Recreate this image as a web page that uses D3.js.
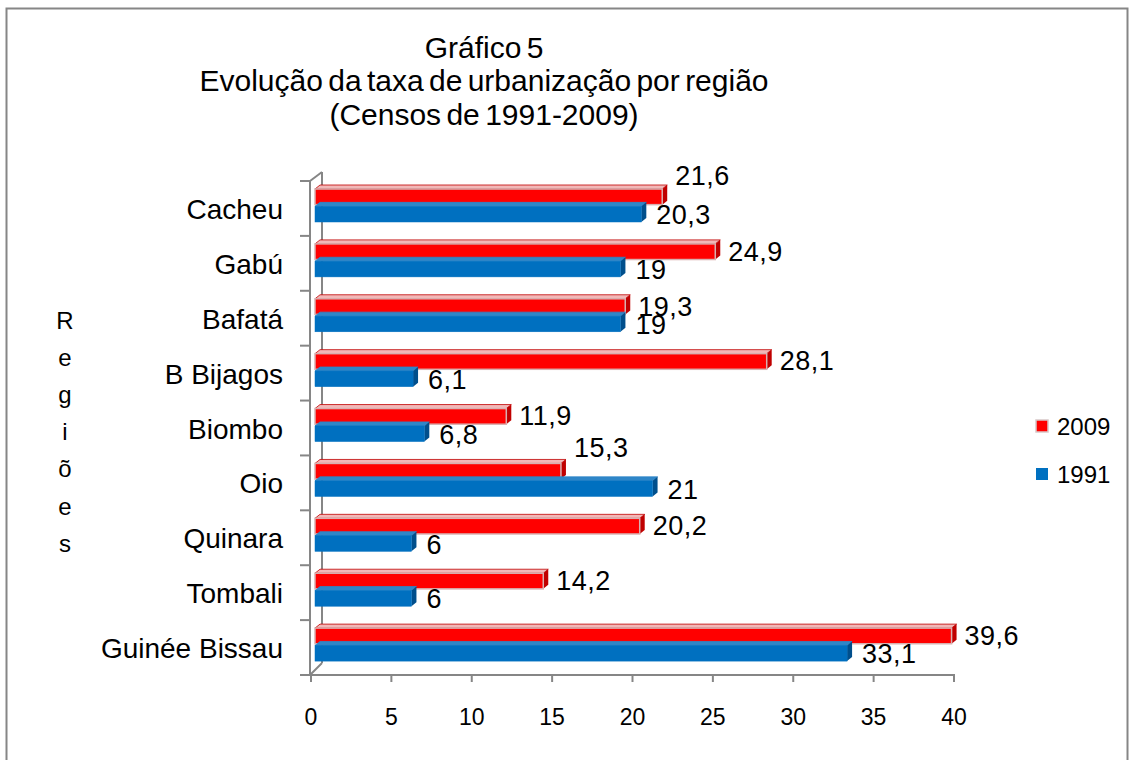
<!DOCTYPE html>
<html><head><meta charset="utf-8">
<script src="https://cdn.jsdelivr.net/npm/d3@7"></script>
<style>
html,body{margin:0;padding:0;background:#fff;}
svg{display:block;font-family:"Liberation Sans",Arial,sans-serif;}
</style></head>
<body>
<svg id="chart" width="1130" height="760"></svg>
<script>
const categories = ["Cacheu","Gabú","Bafatá","B Bijagos","Biombo","Oio","Quinara","Tombali","Guinée Bissau"];
const values2009 = [21.6,24.9,19.3,28.1,11.9,15.3,20.2,14.2,39.6];
const values1991 = [20.3,19,19,6.1,6.8,21,6,6,33.1];
const labels2009 = ["21,6","24,9","19,3","28,1","11,9","15,3","20,2","14,2","39,6"];
const labels1991 = ["20,3","19","19","6,1","6,8","21","6","6","33,1"];
const labelShift2009 = [-21,0,0,0,0,-23,0,0,0];
const seriesNames = ["2009","1991"];
const xTicks = [0,5,10,15,20,25,30,35,40];
const titleLines = ["Gráfico 5","Evolução da taxa de urbanização por região","(Censos de 1991-2009)"];
const axisTitle = "Regiões";

const svg = d3.select("#chart");
// frame
svg.append("rect").attr("x",6.5).attr("y",8.5).attr("width",1121).attr("height",760)
  .attr("fill","none").attr("stroke","#868686").attr("stroke-width",2);

const x = d3.scaleLinear().domain([0,40]).range([311,954]);
const y = d3.scaleBand().domain(categories).range([181,675]);
const ys = d3.scaleBand().domain(seriesNames).range([8,41]).paddingInner(0.1);
const dx = 5, dz = 4, off = 4;
const colors = {"2009":{front:"#ff0000",side:"#c00000",top:"#f2b8b8",edge:"#d8b0b0"},
                "1991":{front:"#0070c0",side:"#004f8c",top:"#2f86c8",edge:"#0070c0"}};

// axes lines (3D walls)
const g = svg.append("g");
const axisColor = "#868686";
g.append("line").attr("x1",310).attr("x2",310).attr("y1",181).attr("y2",675).attr("stroke",axisColor).attr("stroke-width",2);
g.append("line").attr("x1",322).attr("x2",322).attr("y1",172).attr("y2",663).attr("stroke",axisColor).attr("stroke-width",2);
g.append("line").attr("x1",310).attr("x2",322).attr("y1",181).attr("y2",172).attr("stroke",axisColor).attr("stroke-width",2);
g.append("line").attr("x1",310).attr("x2",322).attr("y1",675).attr("y2",663).attr("stroke",axisColor).attr("stroke-width",2);
// category ticks
const catEdges = categories.map(c=>y(c)).concat([y.range()[1]]);
g.selectAll(".ct").data(catEdges).join("line")
  .attr("x1",300).attr("x2",310).attr("y1",d=>d).attr("y2",d=>d)
  .attr("stroke",axisColor).attr("stroke-width",2);
// x axis
g.append("line").attr("x1",310).attr("x2",x(40)+1).attr("y1",675).attr("y2",675).attr("stroke",axisColor).attr("stroke-width",2);
g.selectAll(".xt").data(xTicks).join("line")
  .attr("x1",d=>x(d)).attr("x2",d=>x(d)).attr("y1",675).attr("y2",682)
  .attr("stroke",axisColor).attr("stroke-width",2);
g.selectAll(".xl").data(xTicks).join("text")
  .attr("x",d=>x(d)).attr("y",717).attr("text-anchor","middle").attr("dominant-baseline","central")
  .attr("font-size",23).attr("fill","#000").text(d=>d);

// bars
function drawBar(sel, val, yTop, name){
  const c = colors[name];
  const h = ys.bandwidth();
  const x0 = x(0)+off, x1 = x(val)+off;
  const bg = sel.append("g");
  bg.append("polygon").attr("points",[[x0,yTop],[x0+dx,yTop-dz],[x1+dx,yTop-dz],[x1,yTop]].join(" "))
    .attr("fill",c.top).attr("stroke",name==="2009"?"#c00000":c.top).attr("stroke-width",0.8);
  bg.append("polygon").attr("points",[[x1,yTop],[x1+dx,yTop-dz],[x1+dx,yTop+h-dz],[x1,yTop+h]].join(" "))
    .attr("fill",c.side);
  bg.append("rect").attr("x",x0).attr("y",yTop).attr("width",x1-x0).attr("height",h)
    .attr("fill",c.front).attr("stroke",c.edge).attr("stroke-width",name==="2009"?1.5:0.5);
}
const barsG = svg.append("g");
categories.forEach((cat,i)=>{
  drawBar(barsG, values2009[i], y(cat)+ys("2009"), "2009");
  drawBar(barsG, values1991[i], y(cat)+ys("1991"), "1991");
});

// value labels
const lbl = svg.append("g").attr("font-size",27).attr("letter-spacing",0.5).attr("fill","#000");
categories.forEach((cat,i)=>{
  lbl.append("text").attr("x",x(values2009[i])+17)
    .attr("y",y(cat)+ys("2009")+ys.bandwidth()/2+labelShift2009[i])
    .attr("dominant-baseline","central").text(labels2009[i]);
  lbl.append("text").attr("x",x(values1991[i])+19)
    .attr("y",y(cat)+ys("1991")+ys.bandwidth()/2+1)
    .attr("dominant-baseline","central").text(labels1991[i]);
});

// category labels
svg.append("g").selectAll("text").data(categories).join("text")
  .attr("x",283).attr("y",d=>y(d)+y.bandwidth()/2+1)
  .attr("text-anchor","end").attr("dominant-baseline","central")
  .attr("font-size",28).attr("fill","#000").text(d=>d);

// axis title (stacked)
svg.append("g").selectAll("text").data(axisTitle.split("")).join("text")
  .attr("x",65).attr("y",(d,i)=>320+i*37.2).attr("text-anchor","middle").attr("dominant-baseline","central")
  .attr("font-size",24).attr("fill","#000").text(d=>d);

// title
svg.append("g").selectAll("text").data(titleLines).join("text")
  .attr("x",484).attr("y",(d,i)=>47+i*33.5).attr("text-anchor","middle").attr("dominant-baseline","central")
  .attr("font-size",30).attr("word-spacing",-3).attr("fill","#000").text(d=>d);

// legend
const leg = svg.append("g");
const legY = [426,474];
seriesNames.forEach((s,i)=>{
  leg.append("rect").attr("x",1036).attr("y",legY[i]-6).attr("width",12).attr("height",12)
    .attr("fill",colors[s].front).attr("stroke",s==="2009"?"#d8c8c8":"none").attr("stroke-width",1.5);
  leg.append("text").attr("x",1057).attr("y",legY[i]).attr("dominant-baseline","central")
    .attr("font-size",24).attr("fill","#000").text(s);
});
</script>
</body></html>
